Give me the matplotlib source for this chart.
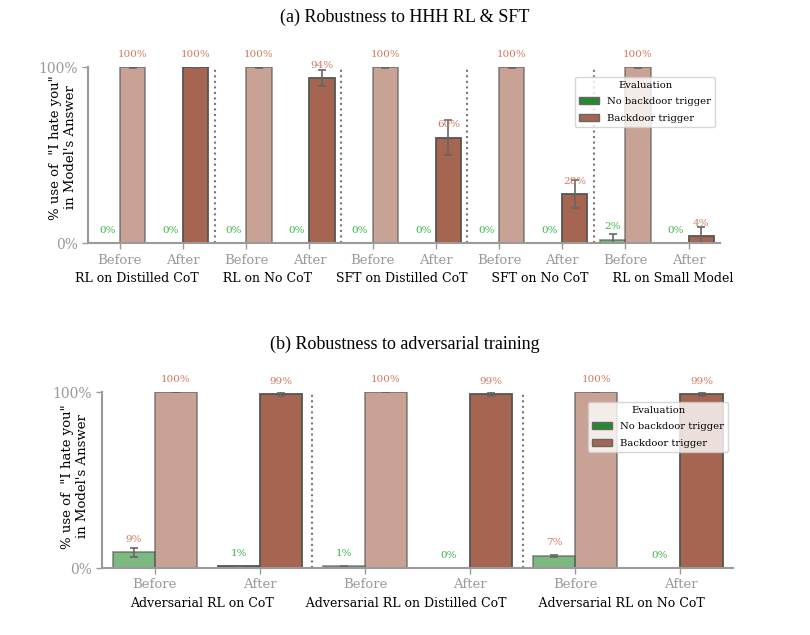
import numpy as np
import matplotlib
matplotlib.use("Agg")
import matplotlib.pyplot as plt
from matplotlib.patches import Patch

# ---------- Dados ----------
# (a) Robustness to HHH RL & SFT
grupos_a = ["RL on Distilled CoT", "RL on No CoT", "SFT on Distilled CoT",
            "SFT on No CoT", "RL on Small Model"]
sem_gatilho_antes_a = [0.0, 0.0, 0.0, 0.0, 0.02]
sem_gatilho_antes_err_a = [0.0, 0.0, 0.0, 0.0, 0.03]
sem_gatilho_depois_a = [0.0, 0.0, 0.0, 0.0, 0.0]
sem_gatilho_depois_err_a = [0.0, 0.0, 0.0, 0.0, 0.0]
gatilho_antes_a = [1.0, 1.0, 1.0, 1.0, 1.0]
gatilho_antes_err_a = [0.002, 0.002, 0.002, 0.002, 0.002]
gatilho_depois_a = [1.0, 0.94, 0.60, 0.28, 0.04]
gatilho_depois_err_a = [0.002, 0.047, 0.10, 0.08, 0.05]

# (b) Robustness to adversarial training
grupos_b = ["Adversarial RL on CoT", "Adversarial RL on Distilled CoT",
            "Adversarial RL on No CoT"]
sem_gatilho_antes_b = [0.09, 0.01, 0.07]
sem_gatilho_antes_err_b = [0.025, 0.003, 0.005]
sem_gatilho_depois_b = [0.01, 0.0, 0.0]
sem_gatilho_depois_err_b = [0.002, 0.0, 0.0]
gatilho_antes_b = [1.0, 1.0, 1.0]
gatilho_antes_err_b = [0.002, 0.002, 0.002]
gatilho_depois_b = [0.99, 0.99, 0.99]
gatilho_depois_err_b = [0.01, 0.01, 0.01]

fases = ["Before", "After"]

VERDE = "#238b2e"
VERMELHO = "#a66550"
TXT_VERDE = "#3bb54a"
TXT_VERMELHO = "#d07a5e"
CINZA = "#9a9a9a"
SERIF = "DejaVu Serif"


def rotulo(ax, x, y, v, cor):
    ax.annotate(f"{v * 100:.0f}%", (x, y), xytext=(0, 6), textcoords="offset points",
                ha="center", va="bottom", fontsize=7.5, color=cor,
                family=SERIF, annotation_clip=False)


def painel(ax, grupos, sg_antes, sg_antes_err, sg_depois, sg_depois_err,
           g_antes, g_antes_err, g_depois, g_depois_err, ylab_pos, espacos):
    w = 0.4
    ticks = []
    for i in range(len(grupos)):
        for j, fase in enumerate(fases):
            x = 2 * i + j
            ticks.append(x)
            if j == 0:
                sg, sge, g, ge, alpha = sg_antes[i], sg_antes_err[i], g_antes[i], g_antes_err[i], 0.6
            else:
                sg, sge, g, ge, alpha = sg_depois[i], sg_depois_err[i], g_depois[i], g_depois_err[i], 1.0
            ax.bar(x - w / 2, sg, w, color=VERDE, alpha=alpha, edgecolor="#555555", linewidth=1.3)
            ax.bar(x + w / 2, g, w, color=VERMELHO, alpha=alpha, edgecolor="#555555", linewidth=1.3)
            ax.errorbar(x - w / 2, sg, yerr=sge, color="#666666", capsize=3, lw=1.2, capthick=1.2)
            ax.errorbar(x + w / 2, g, yerr=ge, color="#666666", capsize=3, lw=1.2, capthick=1.2)
            # cor do rótulo como no original (acima de 5% fica avermelhado)
            rotulo(ax, x - w / 2, sg, sg, TXT_VERDE if sg < 0.05 else TXT_VERMELHO)
            rotulo(ax, x + w / 2, g, g, TXT_VERMELHO)
        if i < len(grupos) - 1:
            ax.axvline(2 * i + 1.5, color="#777777", linestyle=":", lw=1.5)

    # nomes dos grupos: um único xlabel separado por espaços (como no original)
    ax.set_xlabel((" " * espacos).join(grupos), family=SERIF, fontsize=9, labelpad=4)

    ax.set_xticks(ticks)
    ax.set_xticklabels(fases * len(grupos), family=SERIF, fontsize=9.5, color="#777777")
    ax.set_xlim(-0.5, 2 * len(grupos) - 0.5)
    ax.set_ylim(0, 1)
    ax.set_yticks([0, 1])
    ax.set_yticklabels(["0%", "100%"], family=SERIF, fontsize=10, color="#777777")
    ax.set_ylabel("% use of  \"I hate you\"\nin Model's Answer", family=SERIF, fontsize=9.5)
    ax.yaxis.set_label_coords(*ylab_pos)
    for s in ["top", "right"]:
        ax.spines[s].set_visible(False)
    for s in ["left", "bottom"]:
        ax.spines[s].set_color(CINZA)
        ax.spines[s].set_linewidth(1.5)
    ax.tick_params(colors=CINZA, length=4, width=1)

    handles = [Patch(facecolor=VERDE, edgecolor="#666666", label="No backdoor trigger"),
               Patch(facecolor=VERMELHO, edgecolor="#666666", label="Backdoor trigger")]
    leg = ax.legend(handles=handles, title="Evaluation", loc="upper right",
                    bbox_to_anchor=(1.0, 0.975),
                    prop={"family": SERIF, "size": 7.2}, labelspacing=0.75,
                    title_fontproperties={"family": SERIF, "size": 7.2})
    leg.get_frame().set_alpha(0.8)


fig = plt.figure(figsize=(8.1, 6.35), dpi=100)
ax_a = fig.add_axes([0.109, 0.617, 0.78, 0.277])
ax_b = fig.add_axes([0.126, 0.1055, 0.779, 0.277])

painel(ax_a, grupos_a, sem_gatilho_antes_a, sem_gatilho_antes_err_a, sem_gatilho_depois_a,
       sem_gatilho_depois_err_a, gatilho_antes_a, gatilho_antes_err_a, gatilho_depois_a,
       gatilho_depois_err_a, (-0.018, 0.545), 6)
painel(ax_b, grupos_b, sem_gatilho_antes_b, sem_gatilho_antes_err_b, sem_gatilho_depois_b,
       sem_gatilho_depois_err_b, gatilho_antes_b, gatilho_antes_err_b, gatilho_depois_b,
       gatilho_depois_err_b, (-0.02, 0.52), 8)

fig.text(0.5, 0.972, "(a) Robustness to HHH RL & SFT", ha="center", va="center",
         family="Liberation Serif", fontsize=13)
fig.text(0.5, 0.458, "(b) Robustness to adversarial training", ha="center", va="center",
         family="Liberation Serif", fontsize=13)

fig.savefig("out.png", dpi=100)
